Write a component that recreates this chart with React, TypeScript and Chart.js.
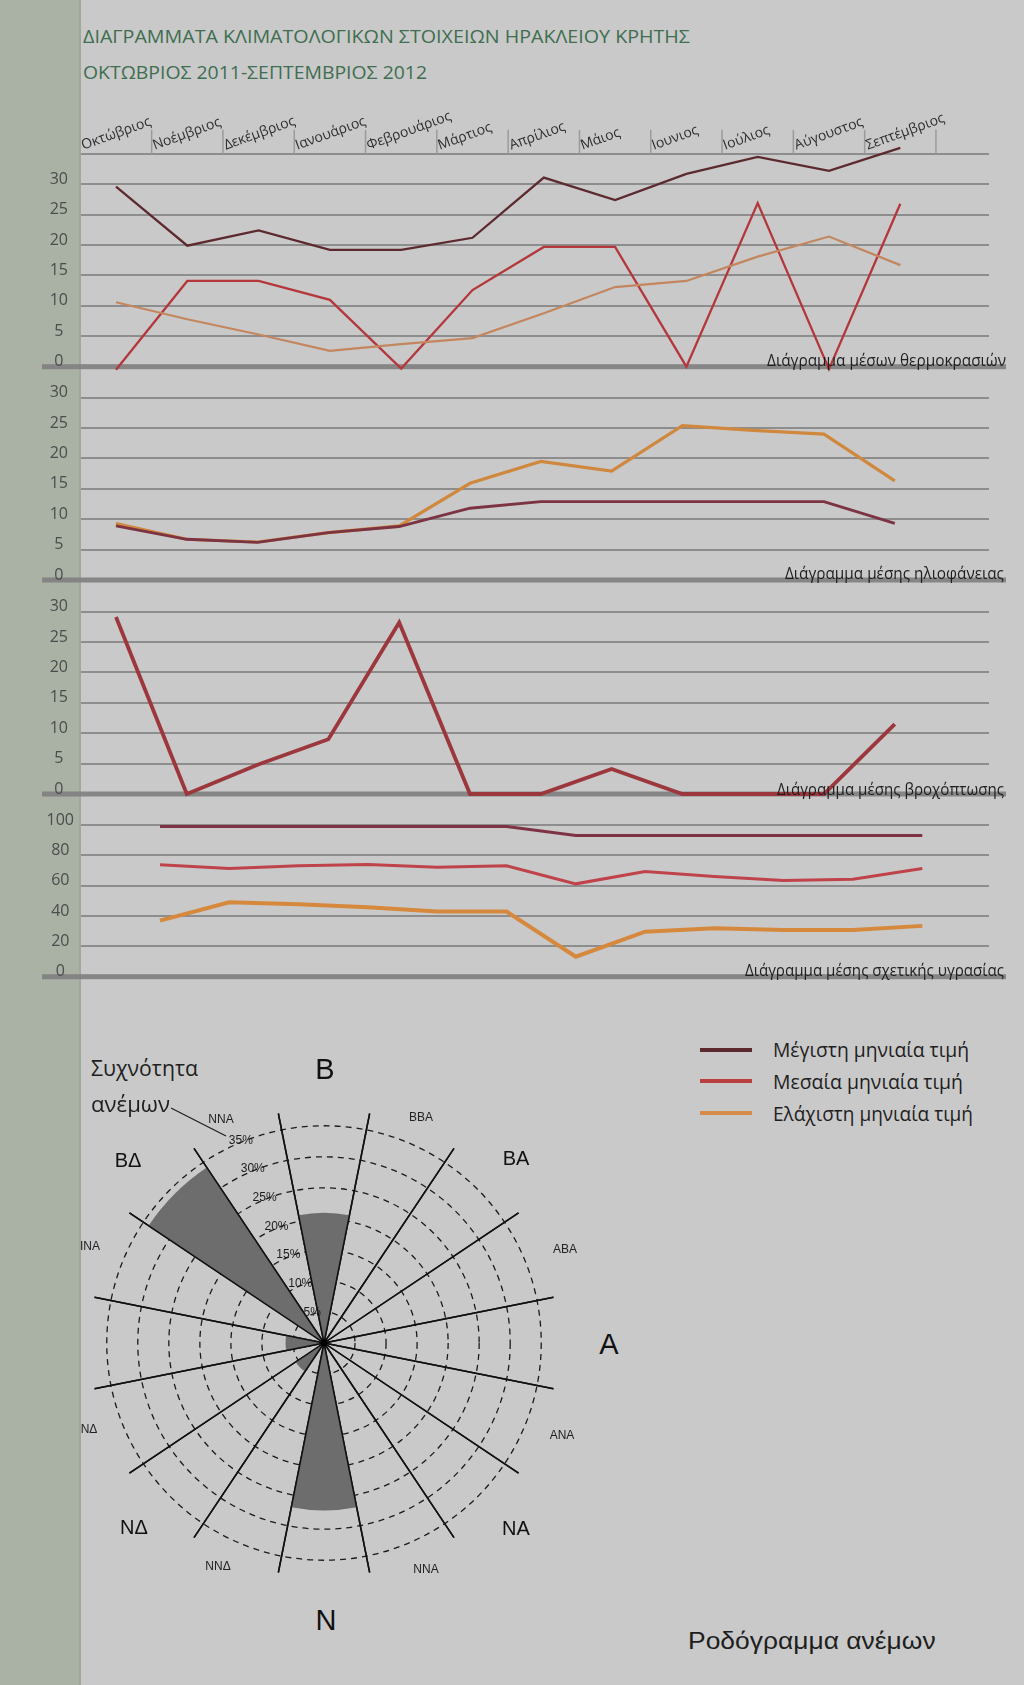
import React, { useEffect, useRef } from 'react';
import { Chart, registerables } from 'chart.js';

Chart.register(...registerables);

// ---------- data ----------
const MONTHS = ['Οκτώβριος', 'Νοέμβριος', 'Δεκέμβριος', 'Ιανουάριος', 'Φεβρουάριος', 'Μάρτιος', 'Απρίλιος', 'Μάιος', 'Ιουνιος', 'Ιούλιος', 'Αύγουστος', 'Σεπτέμβριος'];

const TEMP_MAX = [29.6, 19.9, 22.4, 19.2, 19.2, 21.2, 31.1, 27.4, 31.7, 34.5, 32.2, 36.0];
const TEMP_MEAN = [-0.5, 14.1, 14.1, 11.0, -0.3, 12.6, 19.7, 19.7, 0, 26.9, -0.4, 26.8];
const TEMP_MIN = [10.6, 7.8, 5.3, 2.6, 3.7, 4.7, 8.8, 13.1, 14.1, 18.1, 21.4, 16.7];

const SUN_MIN = [9.3, 6.7, 6.25, 7.8, 8.9, 15.9, 19.5, 17.9, 25.4, 24.6, 24.0, 16.3];
const SUN_MAX = [8.9, 6.7, 6.2, 7.8, 8.8, 11.8, 12.9, 12.9, 12.9, 12.9, 12.9, 9.3];

const RAIN = [29.1, 0, 4.8, 9.0, 28.2, 0, 0, 4.1, 0, 0, 0, 11.5];

const HUM_MAX = [99, 99, 99, 99, 99, 99, 93, 93, 93, 93, 93, 93];
const HUM_MEAN = [73.8, 71.3, 73.1, 73.9, 72.2, 73.1, 61.2, 69.3, 66.0, 63.4, 64.3, 71.3];
const HUM_MIN = [37.0, 49.1, 47.8, 45.8, 42.9, 42.9, 13.2, 29.7, 31.9, 30.8, 30.8, 33.5];

const WIND_DIRS = ['Β', 'ΒΒΑ', 'ΒΑ', 'ΑΒΑ', 'Α', 'ΑΝΑ', 'ΝΑ', 'ΝΝΑ', 'Ν', 'ΝΝΔ', 'ΝΔ', 'ΔΝΔ', 'Δ', 'ΔΒΔ', 'ΒΔ', 'ΒΒΔ'];
const WIND_FREQ = [21, 0, 0, 0, 0, 0, 0, 0, 27, 0, 5.5, 0, 6.2, 0, 34, 0];
const WIND_RINGS = [5, 10, 15, 20, 25, 30, 35];

const LEGEND_LABELS = ['Μέγιστη μηνιαία τιμή', 'Μεσαία μηνιαία τιμή', 'Ελάχιστη μηνιαία τιμή'];

// ---------- styles ----------
const BG = '#c9c9c9';
const BAND = '#a9b2a5';
const GRID = '#8d8d8d';
const C_MAX = '#5c2a2e';
const C_MEAN = '#b4373b';
const C_MIN = '#c3865e';
const FONT = '"Open Sans", "Noto Sans", sans-serif';
const ARIAL = '"Liberation Sans", Arial, sans-serif';

let mctx: CanvasRenderingContext2D | null = null;
function measure(text: string, font: string) {
  if (!mctx) mctx = document.createElement('canvas').getContext('2d');
  mctx!.font = font;
  return mctx!.measureText(text).width;
}

function FitText(p: { text: string; x: number; cy: number; w: number; size: number; family?: string; color?: string; weight?: number; right?: boolean }) {
  const family = p.family || FONT;
  const weight = p.weight || 400;
  const nat = measure(p.text, `${weight} ${p.size}px ${family}`) || p.w;
  const s = p.w / nat;
  const left = p.right ? p.x - p.w : p.x;
  return (
    <div style={{ position: 'absolute', left, top: p.cy - p.size / 2, fontSize: p.size, lineHeight: `${p.size}px`, fontFamily: family, fontWeight: weight, color: p.color || '#1e1e1e', whiteSpace: 'nowrap', transform: `scaleX(${s})`, transformOrigin: '0 50%' }}>
      {p.text}
    </div>
  );
}

function CText(p: { text: string; x: number; cy: number; size: number; family?: string; color?: string }) {
  return (
    <div style={{ position: 'absolute', left: p.x, top: p.cy, fontSize: p.size, lineHeight: `${p.size}px`, fontFamily: p.family || ARIAL, color: p.color || '#111', whiteSpace: 'nowrap', transform: 'translate(-50%, -50%)' }}>
      {p.text}
    </div>
  );
}

const baselinePlugin = {
  id: 'baseline',
  beforeDraw(chart: any) {
    const y0 = chart.scales.y.getPixelForValue(0);
    const ctx = chart.ctx;
    ctx.save();
    ctx.fillStyle = 'rgba(128,128,128,0.92)';
    ctx.fillRect(42, y0 - 2.5, 964, 5);
    ctx.restore();
  },
};

const monthHeaderPlugin = {
  id: 'monthHeader',
  afterDraw(chart: any) {
    const { ctx } = chart;
    const x = chart.scales.x;
    const top = chart.scales.y.getPixelForValue(35);
    ctx.save();
    ctx.strokeStyle = '#9b9b9b';
    ctx.lineWidth = 1.5;
    MONTHS.forEach((m: string, i: number) => {
      const left = x.getPixelForValue(i - 0.5);
      const right = x.getPixelForValue(i + 0.5);
      ctx.beginPath();
      ctx.moveTo(right, top - 24);
      ctx.lineTo(right, top);
      ctx.stroke();
      ctx.save();
      ctx.translate(left + 3, top - 4);
      ctx.rotate((-20 * Math.PI) / 180);
      ctx.font = `14px ${FONT}`;
      ctx.fillStyle = '#2e2e2e';
      ctx.textBaseline = 'alphabetic';
      ctx.textAlign = 'left';
      ctx.fillText(m, 0, 0);
      ctx.restore();
    });
    ctx.restore();
  },
};

type Series = { data: number[]; color: string; width: number };

function lineConfig(p: { series: Series[]; yMax: number; step: number; labelMax: number; padTop: number; padBottom: number; x0: number; dx: number; tickLen: number; extra?: any[] }): any {
  const L = 81;
  const R = 989;
  return {
    type: 'line',
    data: {
      datasets: p.series.map((s) => ({
        data: s.data.map((v, i) => ({ x: i, y: v })),
        borderColor: s.color,
        borderWidth: s.width,
        pointRadius: 0,
        tension: 0,
        fill: false,
        clip: false,
        borderJoinStyle: 'miter',
      })),
    },
    options: {
      responsive: false,
      animation: false,
      events: [],
      layout: { padding: { left: 0, right: 1024 - R, top: p.padTop, bottom: p.padBottom } },
      plugins: { legend: { display: false }, tooltip: { enabled: false } },
      scales: {
        x: { type: 'linear', display: false, min: (L - p.x0) / p.dx, max: (R - p.x0) / p.dx },
        y: {
          type: 'linear',
          min: 0,
          max: p.yMax,
          afterFit: (s: any) => {
            s.width = L;
          },
          border: { display: false },
          grid: {
            color: (c: any) => (c.tick && c.tick.value === 0 ? 'rgba(0,0,0,0)' : GRID),
            lineWidth: 2,
            drawTicks: true,
            tickLength: p.tickLen,
            tickColor: 'rgba(0,0,0,0)',
          },
          ticks: {
            stepSize: p.step,
            includeBounds: false,
            crossAlign: 'center',
            padding: 0,
            labelOffset: -5,
            color: '#4c4c4c',
            font: { family: FONT, size: 16 },
            callback: (v: number) => (v > p.labelMax ? '' : String(v)),
          },
        },
      },
    },
    plugins: [baselinePlugin, ...(p.extra || [])],
  };
}

const roseOverlayPlugin = {
  id: 'roseOverlay',
  afterDatasetsDraw(chart: any) {
    const r = chart.scales.r;
    const ctx = chart.ctx;
    const dist = r.getDistanceFromCenterForValue(r.max);
    ctx.save();
    ctx.strokeStyle = '#111';
    ctx.lineWidth = 1.5;
    for (let i = 0; i < WIND_DIRS.length; i++) {
      const p = r.getPointPosition(i, dist);
      ctx.beginPath();
      ctx.moveTo(r.xCenter, r.yCenter);
      ctx.lineTo(p.x, p.y);
      ctx.stroke();
    }
    const a = (-22.5 * Math.PI) / 180;
    ctx.font = `12px ${ARIAL}`;
    ctx.fillStyle = '#1c1c1c';
    ctx.textAlign = 'center';
    ctx.textBaseline = 'middle';
    WIND_RINGS.forEach((v) => {
      const d = r.getDistanceFromCenterForValue(v);
      ctx.fillText(`${v}%`, r.xCenter + d * Math.sin(a), r.yCenter - d * Math.cos(a) - 2);
    });
    ctx.beginPath();
    ctx.arc(r.xCenter, r.yCenter, 3.5, 0, Math.PI * 2);
    ctx.fillStyle = '#000';
    ctx.fill();
    ctx.restore();
  },
};

export default function App() {
  const c1 = useRef<HTMLCanvasElement>(null);
  const c2 = useRef<HTMLCanvasElement>(null);
  const c3 = useRef<HTMLCanvasElement>(null);
  const c4 = useRef<HTMLCanvasElement>(null);
  const c5 = useRef<HTMLCanvasElement>(null);

  useEffect(() => {
    const charts: Chart[] = [];
    charts.push(
      new Chart(
        c1.current!,
        lineConfig({
          series: [
            { data: TEMP_MIN, color: C_MIN, width: 2.2 },
            { data: TEMP_MEAN, color: C_MEAN, width: 2.3 },
            { data: TEMP_MAX, color: C_MAX, width: 2.3 },
          ],
          yMax: 37,
          step: 5,
          labelMax: 30,
          padTop: 141.7,
          padBottom: 18.3,
          x0: 116,
          dx: 71.3,
          tickLen: 13,
          extra: [monthHeaderPlugin],
        })
      )
    );
    charts.push(
      new Chart(
        c2.current!,
        lineConfig({
          series: [
            { data: SUN_MAX, color: '#7c3342', width: 2.8 },
            { data: SUN_MIN, color: '#d0883f', width: 3.2 },
          ],
          yMax: 32,
          step: 5,
          labelMax: 30,
          padTop: 13.44,
          padBottom: 14,
          x0: 116,
          dx: 70.8,
          tickLen: 13,
        })
      )
    );
    charts.push(
      new Chart(
        c3.current!,
        lineConfig({
          series: [{ data: RAIN, color: '#9c383d', width: 3.8 }],
          yMax: 32,
          step: 5,
          labelMax: 30,
          padTop: 14.44,
          padBottom: 16,
          x0: 116,
          dx: 70.8,
          tickLen: 13,
        })
      )
    );
    charts.push(
      new Chart(
        c4.current!,
        lineConfig({
          series: [
            { data: HUM_MAX, color: '#7e3344', width: 3 },
            { data: HUM_MEAN, color: '#c0434b', width: 3 },
            { data: HUM_MIN, color: '#d6893d', width: 4 },
          ],
          yMax: 105,
          step: 20,
          labelMax: 100,
          padTop: 17.4,
          padBottom: 18.3,
          x0: 160,
          dx: 69.3,
          tickLen: 7,
        })
      )
    );
    charts.push(
      new Chart(c5.current!, {
        type: 'polarArea',
        data: {
          labels: WIND_DIRS,
          datasets: [{ data: WIND_FREQ, backgroundColor: '#6d6d6d', borderWidth: 0 }],
        },
        options: {
          responsive: false,
          animation: false,
          events: [],
          layout: { padding: 0 },
          plugins: { legend: { display: false }, tooltip: { enabled: false } },
          scales: {
            r: {
              min: 0,
              max: 37.7,
              startAngle: -11.25,
              ticks: { display: false, stepSize: 5, includeBounds: false },
              grid: { circular: true, color: '#1b1b1b', lineWidth: 1.3, borderDash: [6, 5] },
              border: { dash: [6, 5] },
              angleLines: { display: true, color: '#111', lineWidth: 1.5 },
              pointLabels: { display: false },
            },
          },
        } as any,
        plugins: [roseOverlayPlugin],
      } as any)
    );
    return () => charts.forEach((c) => c.destroy());
  }, []);

  const canvasStyle = (top: number, h: number, left = 0, w = 1024): React.CSSProperties => ({ position: 'absolute', left, top, width: w, height: h });

  return (
    <div style={{ position: 'absolute', left: 0, top: 0, width: 1024, height: 1685, overflow: 'hidden', background: BG, fontFamily: FONT }}>
      <div style={{ position: 'absolute', left: 0, top: 0, width: 79, height: 1685, background: BAND, borderRight: '2px solid #9ea89b' }} />

      <FitText text="ΔΙΑΓΡΑΜΜΑΤΑ ΚΛΙΜΑΤΟΛΟΓΙΚΩΝ ΣΤΟΙΧΕΙΩΝ ΗΡΑΚΛΕΙΟΥ ΚΡΗΤΗΣ" x={83} cy={36} w={607} size={19} color="#3f6e50" />
      <FitText text="ΟΚΤΩΒΡΙΟΣ 2011-ΣΕΠΤΕΜΒΡΙΟΣ 2012" x={83} cy={72} w={344} size={19} color="#3f6e50" />

      <canvas ref={c1} width={1024} height={385} style={canvasStyle(0, 385)} />
      <canvas ref={c2} width={1024} height={222} style={canvasStyle(372, 222)} />
      <canvas ref={c3} width={1024} height={225} style={canvasStyle(585, 225)} />
      <canvas ref={c4} width={1024} height={195} style={canvasStyle(800, 195)} />

      <FitText text="Διάγραμμα μέσων θερμοκρασιών" x={1006} cy={359} w={239} size={17} right />
      <FitText text="Διάγραμμα μέσης ηλιοφάνειας" x={1004} cy={572} w={219} size={17} right />
      <FitText text="Διάγραμμα μέσης βροχόπτωσης" x={1004} cy={788} w={227} size={17} right />
      <FitText text="Διάγραμμα μέσης σχετικής υγρασίας" x={1004} cy={969} w={259} size={17} right />

      <canvas ref={c5} width={468} height={468} style={canvasStyle(1109, 468, 90, 468)} />

      <FitText text="Συχνότητα" x={91} cy={1067} w={107} size={22} />
      <FitText text="ανέμων" x={91} cy={1103} w={79} size={22} />
      <svg style={{ position: 'absolute', left: 0, top: 0 }} width={400} height={1200}>
        <line x1={171} y1={1108} x2={226} y2={1136} stroke="#1e1e1e" strokeWidth={1.2} />
      </svg>

      <CText text="Β" x={325} cy={1069} size={29} />
      <CText text="Α" x={609} cy={1344} size={29} />
      <CText text="Ν" x={326} cy={1620} size={29} />
      <CText text="ΒΔ" x={128} cy={1160} size={20} />
      <CText text="ΒΑ" x={516} cy={1158} size={20} />
      <CText text="ΝΔ" x={134} cy={1527} size={20} />
      <CText text="ΝΑ" x={516} cy={1528} size={20} />

      <CText text="ΝΝΑ" x={221} cy={1119} size={12} color="#222" />
      <CText text="ΒΒΑ" x={421} cy={1117} size={12} color="#222" />
      <CText text="ΙΝΑ" x={90} cy={1246} size={12} color="#222" />
      <CText text="ΑΒΑ" x={565} cy={1249} size={12} color="#222" />
      <CText text="ΝΔ" x={89} cy={1429} size={12} color="#222" />
      <CText text="ΑΝΑ" x={562} cy={1435} size={12} color="#222" />
      <CText text="ΝΝΔ" x={218} cy={1566} size={12} color="#222" />
      <CText text="ΝΝΑ" x={426} cy={1569} size={12} color="#222" />

      {[C_MAX, '#bb3f3f', '#d68c48'].map((c, i) => (
        <div key={i} style={{ position: 'absolute', left: 700, top: [1050, 1081, 1113][i] - 2, width: 52, height: 4, background: c }} />
      ))}
      <FitText text={LEGEND_LABELS[0]} x={773} cy={1050} w={196} size={20} />
      <FitText text={LEGEND_LABELS[1]} x={773} cy={1082} w={190} size={20} />
      <FitText text={LEGEND_LABELS[2]} x={773} cy={1114} w={200} size={20} />

      <FitText text="Ροδόγραμμα  ανέμων" x={688} cy={1641} w={255} size={24} family={ARIAL} />
    </div>
  );
}
